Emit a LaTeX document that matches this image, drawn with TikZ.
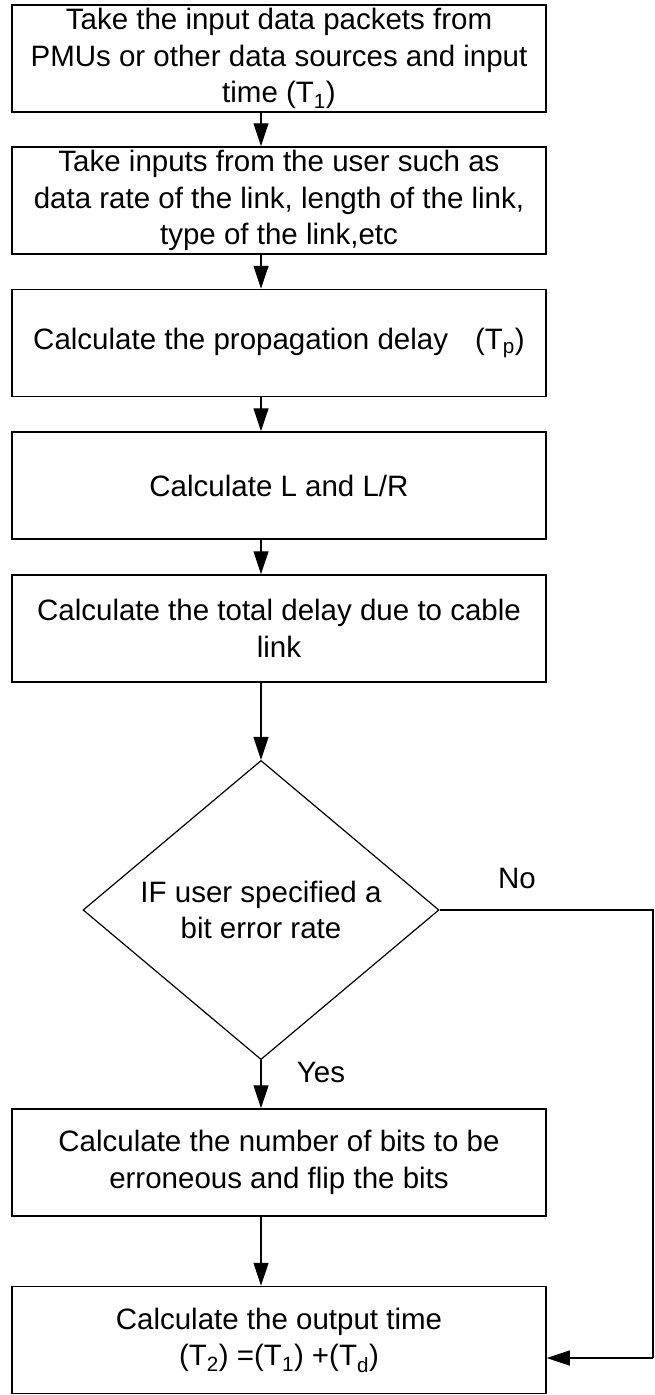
\documentclass[tikz,border=0pt]{standalone}
\usepackage{fontspec}
\setmainfont{Liberation Sans}
\usetikzlibrary{shapes.geometric,arrows.meta}
\newcommand{\flowfont}{\fontsize{29.5}{36.5}\selectfont}
\begin{document}
\begin{tikzpicture}[x=1pt,y=-1pt,
  proc/.style={draw, line width=1.5pt, minimum width=534pt, minimum height=107pt,
    align=center, inner sep=0pt, font=\flowfont},
  dec/.style={draw, line width=1.2pt, diamond, minimum width=356pt, minimum height=284pt,
    inner sep=0pt, align=center, font=\flowfont},
  lbl/.style={inner sep=0pt, font=\flowfont},
  arr/.style={line width=1.2pt, -{Triangle[length=23pt,width=15pt]}},
  con/.style={line width=1.2pt}]
\useasboundingbox (0,0) rectangle (654,1395);

\node[proc] (b1) at (279,58.5) {Take the input data packets from\\PMUs or other data sources and input\\time (T\textsubscript{1})};
\node[proc] (b2) at (279,200.5) {Take inputs from the user such as\\data rate of the link, length of the link,\\type of the link,etc};
\node[proc] (b3) at (279,343) {Calculate the propagation delay\hspace{27pt}(T\textsubscript{p})};
\node[proc] (b4) at (279,485.5) {Calculate L and L/R};
\node[proc] (b5) at (279,628.5) {Calculate the total delay due to cable\\link};
\node[dec] (d) at (261,910) {IF user specified a\\bit error rate};
\node[proc] (b6) at (279,1162.5) {Calculate the number of bits to be\\erroneous and flip the bits};
\node[proc] (b7) at (279,1340) {Calculate the output time\\(T\textsubscript{2}) =(T\textsubscript{1}) +(T\textsubscript{d})};

\node[lbl] (no) at (517,878) {No};
\node[lbl] (yes) at (321,1072) {Yes};

\coordinate (col) at (261,0);
\coordinate (ne) at (653,1358);

\draw[arr] (b1.south -| col) -- (b2.north -| col);
\draw[arr] (b2.south -| col) -- (b3.north -| col);
\draw[arr] (b3.south -| col) -- (b4.north -| col);
\draw[arr] (b4.south -| col) -- (b5.north -| col);
\draw[arr] (b5.south -| col) -- (d.north);
\draw[arr] (d.south) -- (b6.north -| col);
\draw[arr] (b6.south -| col) -- (b7.north -| col);
\draw[con] (d.east) -| (ne);
\draw[arr] (ne) -- (ne -| b7.east);
\end{tikzpicture}
\end{document}
